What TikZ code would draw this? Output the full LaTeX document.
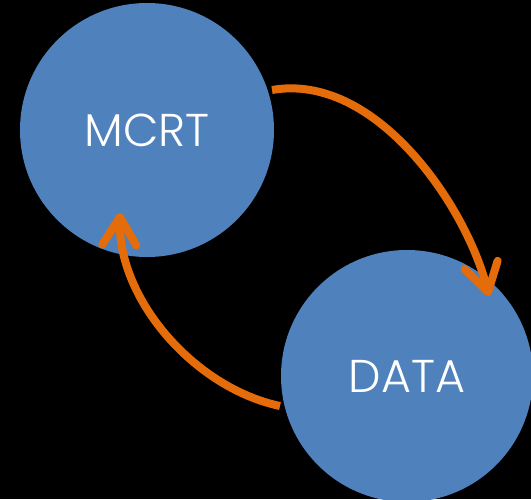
\documentclass[tikz,border=0pt]{standalone}
\usepackage{fontspec}
\setmainfont{Poppins}[UprightFont=*-Light]
\usetikzlibrary{arrows.meta}
\definecolor{cblue}{HTML}{4F81BD}
\definecolor{corange}{HTML}{E46C0A}
\tikzset{
  bubble/.style={circle, fill=cblue, inner sep=0pt, minimum size=#1, text=white, font=\fontsize{46}{46}\selectfont},
  flow/.style={draw=corange, line width=8pt, line cap=butt,
    -{Straight Barb[length=28pt, width=34pt, line cap=round, line join=round]}}
}
\begin{document}
\begin{tikzpicture}[x=1pt, y=-1pt]
\fill[black] (0,0) rectangle (531,499);
\useasboundingbox (0,0) rectangle (531,499);
\node[bubble=254pt] (mcrt) at (147,130) {MCRT};
\node[bubble=252pt] (data) at (407,376) {DATA};
\coordinate (s1) at (272,90);
\coordinate (e1) at (489,296);
\coordinate (s2) at (280,406);
\coordinate (e2) at (120,213);
\draw[flow] (s1) .. controls (375,72) and (466,205) .. (e1);
\draw[flow] (s2) .. controls (195,388) and (118,300) .. (e2);
\end{tikzpicture}
\end{document}
